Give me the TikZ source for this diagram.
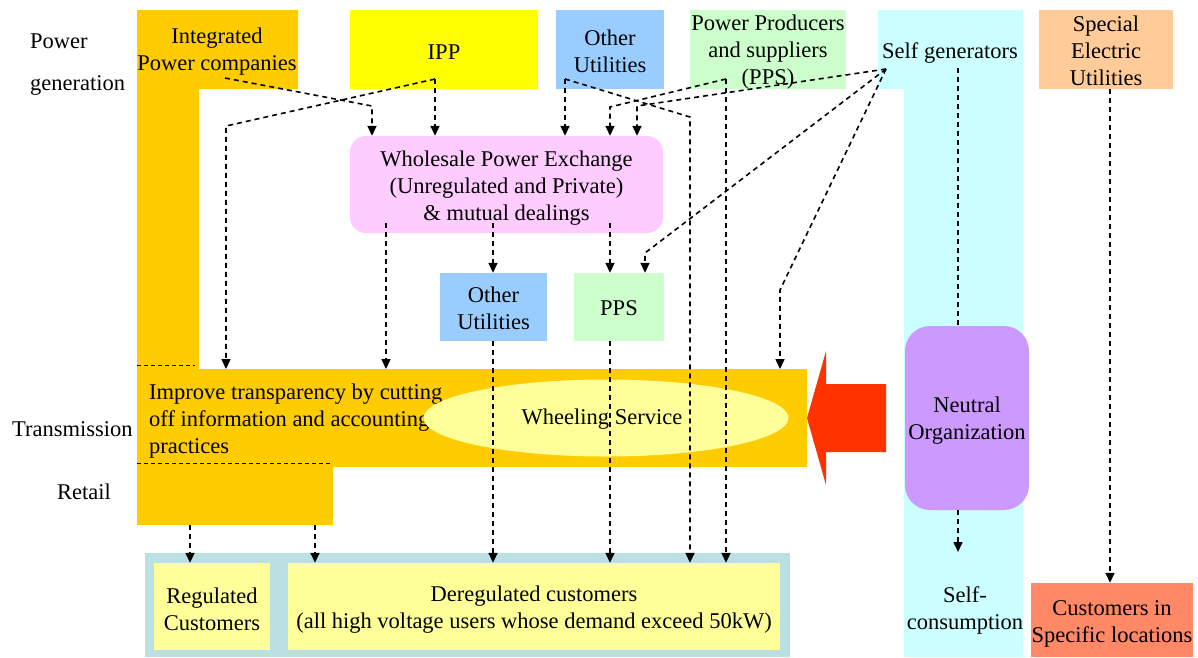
\documentclass[tikz,border=0pt]{standalone}
\usepackage{fontspec}
\setmainfont{Liberation Serif}
\newfontfamily\diagramface{Liberation Serif}
\usetikzlibrary{arrows.meta,calc,shapes.geometric}
\definecolor{gold}{HTML}{FFCC00}
\definecolor{lemon}{HTML}{FFFF00}
\definecolor{skyblue}{HTML}{99CCFF}
\definecolor{mint}{HTML}{CCFFCC}
\definecolor{aqua}{HTML}{CCFFFF}
\definecolor{peach}{HTML}{FFCC99}
\definecolor{pinkish}{HTML}{FFCCFF}
\definecolor{paleyellow}{HTML}{FFFF99}
\definecolor{signalred}{HTML}{FF3300}
\definecolor{lilac}{HTML}{CC99FF}
\definecolor{frame}{HTML}{BBE0E3}
\definecolor{salmon}{HTML}{FF8866}
\begin{document}
\begin{tikzpicture}[x=1pt,y=-1pt,
  font=\diagramface\fontsize{22.5}{27}\selectfont,
  box/.style={rectangle, inner sep=0pt},
  txt/.style={inner sep=0pt, align=center},
  flow/.style={line width=1.6pt, dash pattern=on 5pt off 4pt,
    -{Triangle[length=10pt,width=9pt]}},
  link/.style={line width=1.6pt, dash pattern=on 5pt off 4pt},
  divider/.style={line width=1pt, dash pattern=on 4pt off 3pt}]
\useasboundingbox (0,0) rectangle (1198,657);

% integrated utilities: generation column, transmission bar and retail block
\fill[gold] (137,10) -- (298,10) -- (298,89) -- (199,89) -- (199,369)
  -- (807,369) -- (807,467) -- (333,467) -- (333,525) -- (137,525) -- cycle;
\draw[divider] (137,365) -- (195,365);
\draw[divider] (137,463) -- (330,463);
\coordinate (transtop) at (0,369);

% self generators column
\fill[aqua] (878,10) -- (1023,10) -- (1023,657) -- (904,657) -- (904,89)
  -- (878,89) -- cycle;

% row labels
\node[anchor=west, align=left, inner sep=0pt] (gen) at (30,65) {Power\\[15pt]generation};
\node[anchor=west, inner sep=0pt] (trn) at (12,429) {Transmission};
\node[inner sep=0pt] (ret) at (84,492) {Retail};

% generation side
\node[box, fill=lemon, minimum width=188pt, minimum height=79pt] (ipp) at (444,49.5) {};
\node[box, fill=skyblue, minimum width=108pt, minimum height=79pt] (ou1) at (610,49.5) {};
\node[box, fill=mint, minimum width=156pt, minimum height=79pt] (pps1) at (768,49.5) {};
\node[box, fill=peach, minimum width=134pt, minimum height=79pt] (seu) at (1106,49.5) {};
\node[txt] (igc) at (217,52) {Integrated\\Power companies};
\node[txt] (ippT) at (444,52) {IPP};
\node[txt] (ou1T) at (610,51) {Other\\Utilities};
\node[txt] (pps1T) at (768,52) {Power Producers\\and suppliers\\(PPS)};
\node[txt] (sg) at (950,53) {Self generators};
\node[txt] (seuT) at (1106,51) {Special\\Electric\\Utilities};

% exchange and intermediaries
\node[box, fill=pinkish, rounded corners=16pt, minimum width=313pt, minimum height=97pt] (wpe) at (506.5,184.5) {};
\node[txt] (wpeT) at (506.5,188) {Wholesale Power Exchange\\(Unregulated and Private)\\\& mutual dealings};
\node[box, fill=skyblue, minimum width=107pt, minimum height=68pt] (ou2) at (493.5,307) {};
\node[txt] (ou2T) at (493.5,308) {Other\\Utilities};
\node[box, fill=mint, minimum width=90pt, minimum height=68pt] (pps2) at (619,307) {};
\node[txt] (pps2T) at (619,308.5) {PPS};

% transmission
\node[anchor=west, align=left, inner sep=0pt] (transp) at (149,421)
  {Improve transparency by cutting\\off information and accounting\\practices};
\node[ellipse, fill=paleyellow, minimum width=365pt, minimum height=77pt, inner sep=0pt] (ws) at (606,418) {};
\node[txt] (wst) at (602,419.5) {Wheeling Service};

% neutral organization and its push arrow
\fill[signalred] (807,418) -- (826,351) -- (826,384) -- (886,384) -- (886,452)
  -- (826,452) -- (826,485) -- cycle;
\node[box, fill=lilac, rounded corners=25pt, minimum width=124pt, minimum height=184pt] (nor) at (967,418) {};
\node[txt] (norT) at (967,421) {Neutral\\Organization};

% customers
\fill[frame] (145,553) rectangle (790,657);
\node[box, fill=paleyellow, minimum width=116pt, minimum height=87pt] (reg) at (212,606.5) {};
\node[txt] (regT) at (212,609) {Regulated\\Customers};
\node[box, fill=paleyellow, minimum width=492pt, minimum height=87pt] (dereg) at (534,606.5) {};
\node[txt] (deregT) at (534,609.5)
  {Deregulated customers\\(all high voltage users whose demand exceed 50kW)};
\node[txt] (selfc) at (965,610) {Self-\\consumption};
\node[box, fill=salmon, minimum width=162pt, minimum height=74pt] (csl) at (1112,620) {};
\node[txt] (cslT) at (1112,623.5) {Customers in\\Specific locations};

% flows
\coordinate (igcS) at (225,78);   \coordinate (igcK) at (372,106);
\coordinate (ippS) at (435,79);   \coordinate (ippK) at (226,126);
\coordinate (ou1S) at (565,79);   \coordinate (ou1K) at (690,117);
\coordinate (ppsS) at (726,79);   \coordinate (ppsK) at (610,107);
\coordinate (sgS) at (886,69);
\coordinate (sgK1) at (637,106); \coordinate (sgK2) at (645,253); \coordinate (sgK3) at (780,290);
\coordinate (wpeL) at (386,223); \coordinate (wpeM) at (493,223); \coordinate (wpeR) at (610,223);
\coordinate (ou2S) at (493,341); \coordinate (pps2S) at (610,341);
\coordinate (retL) at (190,525); \coordinate (retR) at (315,525);
\coordinate (sgD) at (958,68);   \coordinate (norS) at (958,510);
\coordinate (selfcIn) at (958,552);
\coordinate (seuS) at (1110,89);

\draw[flow] (igcS) -- (igcK) -- (igcK |- wpe.north);
\draw[flow] (ippS) -- (ippK) -- (ippK |- transtop);
\draw[flow] (ippS) -- (ippS |- wpe.north);
\draw[flow] (ou1S) -- (ou1S |- wpe.north);
\draw[flow] (ou1S) -- (ou1K) -- (ou1K |- dereg.north);
\draw[flow] (ppsS) -- (ppsK) -- (ppsK |- wpe.north);
\draw[flow] (ppsS) -- (ppsS |- dereg.north);
\draw[flow] (sgS) -- (sgK1) -- (sgK1 |- wpe.north);
\draw[flow] (sgS) -- (sgK2) -- (sgK2 |- pps2.north);
\draw[flow] (sgS) -- (sgK3) -- (sgK3 |- transtop);
\draw[flow] (wpeL) -- (wpeL |- transtop);
\draw[flow] (wpeM) -- (wpeM |- ou2.north);
\draw[flow] (wpeR) -- (wpeR |- pps2.north);
\draw[flow] (ou2S) -- (ou2S |- dereg.north);
\draw[flow] (pps2S) -- (pps2S |- dereg.north);
\draw[flow] (retL) -- (retL |- reg.north);
\draw[flow] (retR) -- (retR |- dereg.north);
\draw[link] (sgD) -- (sgD |- nor.north);
\draw[flow] (norS) -- (selfcIn);
\draw[flow] (seuS) -- (seuS |- csl.north);
\end{tikzpicture}
\end{document}
